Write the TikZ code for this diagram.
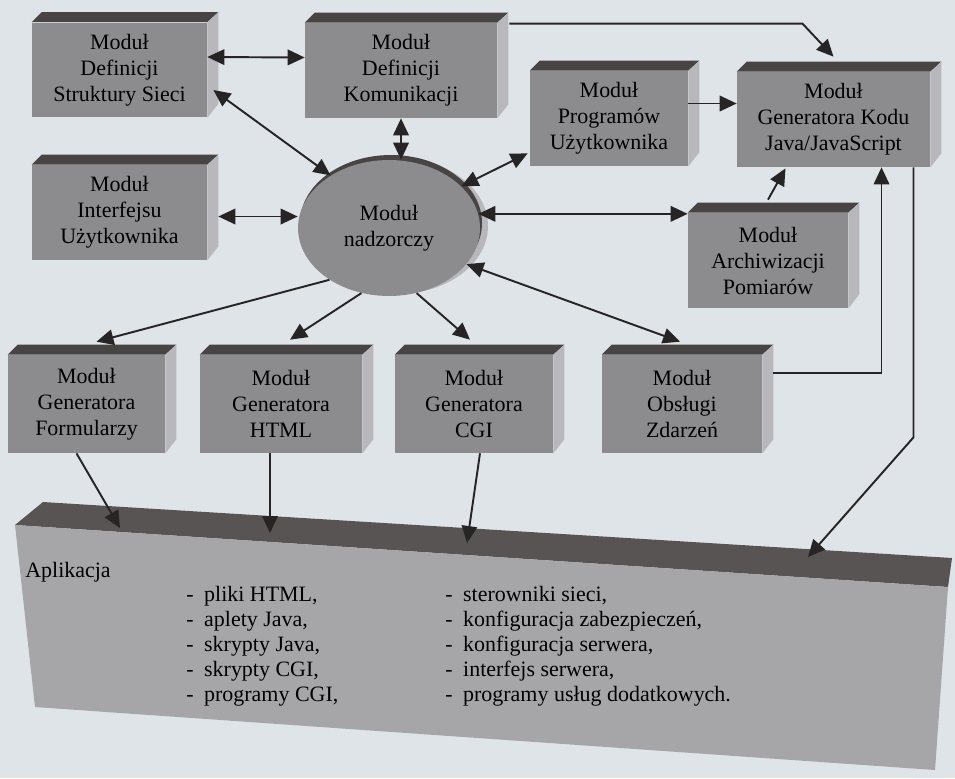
\documentclass[tikz,border=0pt]{standalone}
\usepackage{fontspec}
\setmainfont{Liberation Serif}
\usetikzlibrary{shapes.geometric,arrows.meta,calc}

\definecolor{paper}{RGB}{223,228,232}
\definecolor{face}{RGB}{140,140,142}
\definecolor{topface}{RGB}{72,68,68}
\definecolor{sideface}{RGB}{184,184,188}
\definecolor{slabface}{RGB}{166,166,169}
\definecolor{slabtop}{RGB}{88,84,84}
\definecolor{ink}{RGB}{38,36,36}

\begin{document}
\begin{tikzpicture}[x=0.02cm,y=-0.02cm,
  modul/.style={rectangle,fill=face,text=black,align=center,inner sep=0pt,
    minimum height=1.9cm,font=\fontsize{12.5}{14.8}\selectfont},
  txtline/.style={anchor=base west,inner sep=0pt,text=black,
    font=\fontsize{12.5}{14.8}\selectfont},
  link/.style={ink,line width=1.1pt},
  >={Triangle[length=3.4mm,width=3.1mm]}]

  \fill[paper] (0,0) rectangle (955,778);
  \useasboundingbox (0,0) rectangle (955,778);

  % application slab
  \coordinate (s1) at (15,525);
  \coordinate (s2) at (948,587);
  \coordinate (s3) at (935,770);
  \coordinate (s4) at (35,707);
  \fill[slabtop] (s1) -- (43,502) -- (952,558) -- (s2) -- cycle;
  \fill[slabface] (s1) -- (s2) -- (s3) -- (s4) -- cycle;

  \node[txtline] (aplik) at (25,577) {Aplikacja};
  \foreach \txt [count=\i] in {{pliki HTML,},{aplety Java,},{skrypty Java,},
      {skrypty CGI,},{programy CGI,}}
    \node[txtline] (files\i) at (186,576+25*\i) {-\hspace{2.1mm}\txt};
  \foreach \txt [count=\i] in {{sterowniki sieci,},{konfiguracja zabezpieczeń,},
      {konfiguracja serwera,},{interfejs serwera,},{programy usług dodatkowych.}}
    \node[txtline] (serv\i) at (445,576+25*\i) {-\hspace{2.1mm}\txt};

  % modules
  \node[modul,minimum width=3.5cm] (strukt) at (119.5,70) {Moduł\\Definicji\\Struktury Sieci};
  \node[modul,minimum width=3.84cm] (komun) at (401,70.5) {Moduł\\Definicji\\Komunikacji};
  \node[modul,minimum width=3.5cm] (interf) at (119.5,212.5) {Moduł\\Interfejsu\\Użytkownika};
  \node[modul,minimum width=3.16cm] (program) at (609,118.5) {Moduł\\Programów\\Użytkownika};
  \node[modul,minimum width=3.86cm] (kod) at (833.5,119.5) {Moduł\\Generatora Kodu\\Java/JavaScript};
  \node[modul,minimum width=3.2cm] (archiw) at (768,260.5) {Moduł\\Archiwizacji\\Pomiarów};
  \node[modul,minimum width=3.14cm,minimum height=1.96cm] (formul) at (86.5,404) {Moduł\\Generatora\\Formularzy};
  \node[modul,minimum width=3.24cm,minimum height=1.96cm] (html) at (281,404) {Moduł\\Generatora\\HTML};
  \node[modul,minimum width=3.16cm,minimum height=1.96cm] (cgi) at (474,404) {Moduł\\Generatora\\CGI};
  \node[modul,minimum width=3.2cm,minimum height=1.96cm] (zdarz) at (682,404) {Moduł\\Obsługi\\Zdarzeń};

  \foreach \m in {strukt,komun,interf,program,kod,archiw,formul,html,cgi,zdarz} {
    \fill[topface] (\m.north west) -- ++(10,-10) -- ($(\m.north east)+(11,-10)$) -- (\m.north east) -- cycle;
    \fill[sideface] (\m.north east) -- ++(11,-10) -- ($(\m.south east)+(11,-14)$) -- (\m.south east) -- cycle;
  }

  % supervisor
  \fill[sideface] (397,226) ellipse [x radius=91,y radius=68];
  \fill[topface] (391,223) ellipse [x radius=91,y radius=68];
  \node[ellipse,fill=face,text=black,align=center,inner sep=0pt,minimum width=3.64cm,
    minimum height=2.72cm,font=\fontsize{12.5}{14.8}\selectfont] (nadzor) at (389,228) {Moduł\\nadzorczy};

  % connections
  \coordinate (i1) at ($(interf.east)+(11,4)$);
  \coordinate (k1) at ($(komun.north east)+(12,1)$);
  \coordinate (k2) at ($(kod.north)+(-31,-48)$);
  \coordinate (inF) at (120,528);
  \coordinate (inH) at (270,533);
  \coordinate (inC) at (467,543);
  \coordinate (inK) at (808,557);

  \draw[link,<->] ($(strukt.east)+(0,-13)$) -- ($(komun.west)+(0,-13)$);
  \draw[link,<->] ($(strukt.east)+(6,20)$) -- (nadzor.138);
  \draw[link,<->] (komun.south) -- (komun.south |- nadzor.north);
  \draw[link,<->] (i1) -- (i1 -| nadzor.west);
  \draw[link,<->] (nadzor.30) -- ($(program.south west)+(-2,-13)$);
  \draw[link,<->] (nadzor.9) -- (nadzor.9 -| archiw.west);
  \draw[link,->] ($(archiw.north)+(0,-13)$) -- ($(kod.south)+(-48,1)$);
  \draw[link,->] ($(program.east)+(0,-15)$) -- ($(kod.west)+(0,-16)$);
  \draw[link,->] (k1) -- (k2) -- ($(kod.north)+(0,-15)$);
  \draw[link,->] ($(zdarz.east)+(11,-31)$) -| ($(kod.south)+(48,0)$);
  \draw[link,->] ($(kod.south)+(80,0)$) -- ++(0,270) -- (inK);

  \draw[link,->] (nadzor.221) -- ($(formul.north)+(10,-13)$);
  \draw[link,->] (nadzor.247) -- ($(html.north)+(9,-15)$);
  \draw[link,->] (nadzor.293) -- ($(cgi.north)+(-4,-15)$);
  \draw[link,<->] (nadzor.335) -- ($(zdarz.north)+(-2,-13)$);

  \draw[link,->] ($(formul.south)+(-10,0)$) -- (inF);
  \draw[link,->] ($(html.south)+(-11,0)$) -- (inH);
  \draw[link,->] ($(cgi.south)+(6,0)$) -- (inC);
\end{tikzpicture}
\end{document}
